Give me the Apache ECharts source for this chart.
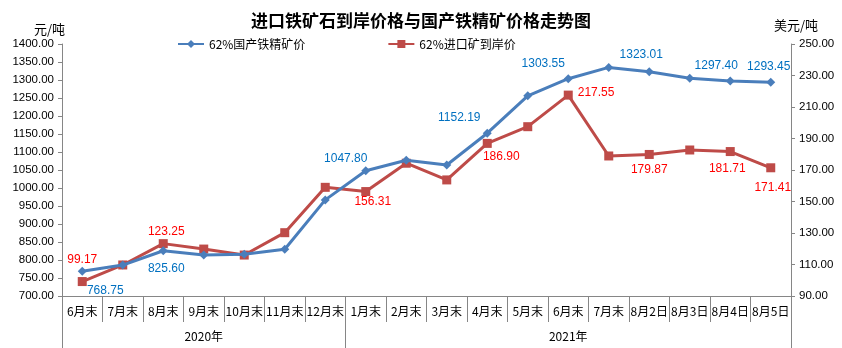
<!DOCTYPE html>
<html><head><meta charset="utf-8">
<script src="https://cdn.jsdelivr.net/npm/echarts@6/dist/echarts.min.js"></script>
<style>html,body{margin:0;padding:0;background:#fff}#c{width:842px;height:348px}</style>
</head><body><div id="c"></div>
<script>
var categories = ['6月末','7月末','8月末','9月末','10月末','11月末','12月末','1月末','2月末','3月末','4月末','5月末','6月末','7月末','8月2日','8月3日','8月4日','8月5日'];
var yearLabels = ['','','','2020年','','','','','','','','','2021年','','','','',''];
var domestic = [768.75,786,825.60,814,816,830,967,1047.80,1077,1064,1152.19,1256,1303.55,1335,1323.01,1305,1297.40,1293.45];
var imported = [99.17,109.7,123.25,119.8,116.0,130.2,159.0,156.31,174.3,163.7,186.90,197.5,217.55,178.9,179.87,182.7,181.71,171.41];
var leftTicks = {min:700,max:1400,interval:50};
var rightTicks = {min:90,max:250,interval:20};

var blueLabels = {0:{position:'bottom',offset:[23,4]},2:{position:'bottom',offset:[3,2]},7:{position:'top',offset:[-20,3]},10:{position:'top',offset:[-28,0]},12:{position:'top',offset:[-25,0]},14:{position:'top',offset:[-8,-2]},16:{position:'top',offset:[-14,0]},17:{position:'top',offset:[-2,0]}};
var redLabels = {0:{position:'top',offset:[0,-6]},2:{position:'top',offset:[3,4]},7:{position:'bottom',offset:[7,-5]},10:{position:'bottom',offset:[14,-2]},12:{position:'right',offset:[0,-2]},14:{position:'bottom',offset:[0,0]},16:{position:'bottom',offset:[-3,2]},17:{position:'bottom',offset:[2,4]}};

function build(arr, labs, color){
  return arr.map(function(v,i){
    var l = labs[i];
    if(!l) return {value:v};
    return {value:v,label:{show:true,position:l.position,offset:l.offset,color:color,fontSize:12,fontFamily:'Liberation Sans',formatter:function(p){return p.value.toFixed(2);}}};
  });
}
var gray = '#868686';
var chart = echarts.init(document.getElementById('c'));
chart.setOption({
  animation:false,
  title:{text:'进口铁矿石到岸价格与国产铁精矿价格走势图',left:'center',top:7,textStyle:{fontSize:17,fontWeight:'bold',color:'#000',fontFamily:'Noto Sans CJK SC'}},
  legend:{top:33,left:172,itemGap:82,itemWidth:26,itemHeight:10,textStyle:{fontSize:12,color:'#000',fontFamily:'Noto Sans CJK SC'},data:['62%国产铁精矿价','62%进口矿到岸价']},
  grid:{left:62,right:51,top:44,bottom:52},
  xAxis:[
    {type:'category',data:categories,boundaryGap:true,axisLine:{lineStyle:{color:gray}},axisTick:{show:true,length:26,lineStyle:{color:gray}},axisLabel:{interval:0,color:'#000',fontSize:12,margin:9,fontFamily:'Noto Sans CJK SC'}},
    {type:'category',data:yearLabels,position:'bottom',boundaryGap:true,axisLine:{show:false},
     axisTick:{show:true,length:52,interval:function(i){return i===0||i===7;},lineStyle:{color:gray}},
     axisLabel:{interval:0,color:'#000',fontSize:12,margin:34,fontFamily:'Noto Sans CJK SC'}}
  ],
  yAxis:[
    {type:'value',min:leftTicks.min,max:leftTicks.max,interval:leftTicks.interval,name:'元/吨',nameGap:8,nameTextStyle:{color:'#000',fontSize:13,fontFamily:'Noto Sans CJK SC',align:'center',padding:[0,25,0,0]},
     axisLine:{show:true,lineStyle:{color:gray}},axisTick:{show:true,length:4,lineStyle:{color:gray}},splitLine:{show:false},
     axisLabel:{color:'#000',fontSize:11.5,margin:8,fontFamily:'Liberation Sans',formatter:function(v){return v.toFixed(2);}}},
    {type:'value',min:rightTicks.min,max:rightTicks.max,interval:rightTicks.interval,name:'美元/吨',nameGap:12,nameTextStyle:{color:'#000',fontSize:13,fontFamily:'Noto Sans CJK SC',align:'center',padding:[0,0,0,10]},
     axisLine:{show:true,lineStyle:{color:gray}},axisTick:{show:true,length:4,lineStyle:{color:gray}},splitLine:{show:false},
     axisLabel:{color:'#000',fontSize:11.5,margin:8,fontFamily:'Liberation Sans',formatter:function(v){return v.toFixed(2);}}}
  ],
  series:[
    {name:'62%国产铁精矿价',type:'line',yAxisIndex:0,data:build(domestic,blueLabels,'#0070C0'),symbol:'diamond',symbolSize:9,lineStyle:{width:3,color:'#4A7EBB'},itemStyle:{color:'#4A7EBB'},z:3},
    {name:'62%进口矿到岸价',type:'line',yAxisIndex:1,data:build(imported,redLabels,'#FF0000'),symbol:'rect',symbolSize:9,lineStyle:{width:3,color:'#BE4B48'},itemStyle:{color:'#BE4B48'},z:2}
  ]
});
</script></body></html>
